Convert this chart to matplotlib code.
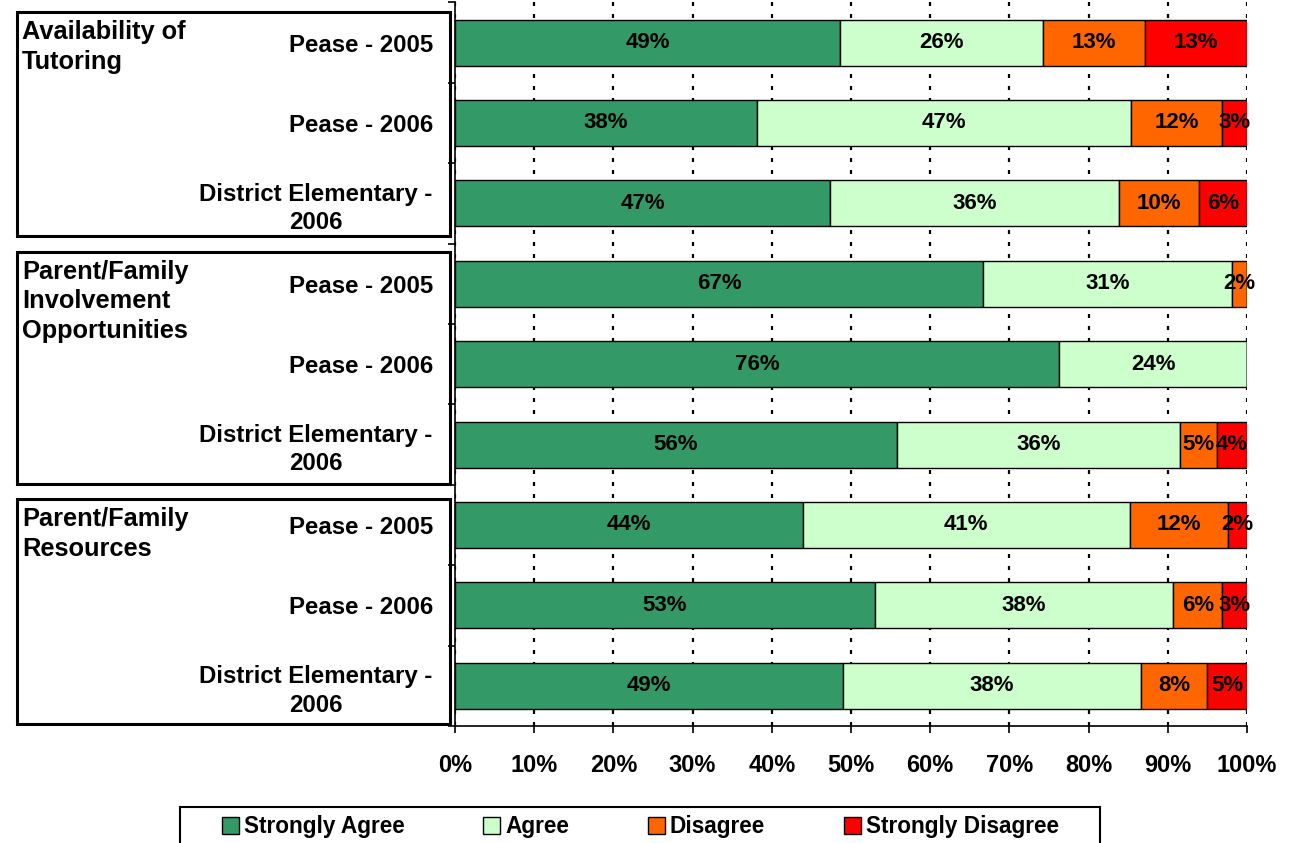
import numpy as np
import matplotlib
matplotlib.use('Agg')
import matplotlib.pyplot as plt
from matplotlib.patches import Patch, Rectangle
from matplotlib.transforms import blended_transform_factory

plt.rcParams['font.family'] = ['Liberation Sans', 'DejaVu Sans']
plt.rcParams['font.weight'] = 'bold'

GROUPS = ['Availability of\nTutoring',
          'Parent/Family\nInvolvement\nOpportunities',
          'Parent/Family\nResources']
ROWS = ['Pease - 2005', 'Pease - 2006', 'District Elementary -\n2006'] * 3
SERIES = ['Strongly Agree', 'Agree', 'Disagree', 'Strongly Disagree']
COLORS = ['#339966', '#CCFFCC', '#FF6600', '#FF0000']

# percent per row, top to bottom
strongly_agree = [48.6, 38.1, 47.4, 66.7, 76.3, 55.8, 43.9, 53.0, 49.0]
agree = [25.6, 47.2, 36.4, 31.4, 23.7, 35.8, 41.3, 37.7, 37.6]
disagree = [12.9, 11.6, 10.1, 1.9, 0.0, 4.6, 12.4, 6.2, 8.4]
strongly_disagree = [12.9, 3.1, 6.1, 0.0, 0.0, 3.8, 2.4, 3.1, 5.0]

# group box extents in row units (top, bottom)
BOX_SPANS = [(-0.38, 2.41), (2.60, 5.49), (5.68, 8.47)]

W, H = 1291, 843
fig = plt.figure(figsize=(W / 100, H / 100), dpi=100)
ax = fig.add_axes([455 / W, 1 - 726 / H, 792 / W, 723.6 / H])

y = np.arange(len(ROWS))
left = np.zeros(len(ROWS))
for vals, name, col in zip([strongly_agree, agree, disagree, strongly_disagree], SERIES, COLORS):
    vals = np.array(vals)
    bars = ax.barh(y, vals, left=left, height=0.57, color=col, edgecolor='black',
                   linewidth=1.0, label=name, zorder=2)
    labels = [f'{round(v)}%' if v > 0 else '' for v in vals]
    ax.bar_label(bars, labels=labels, label_type='center', fontsize=16,
                 fontweight='bold', color='black', zorder=3)
    left += vals

ax.set_xlim(0, 100)
ax.set_ylim(8.5, -0.5)
ax.set_xticks(np.arange(0, 101, 10))
ax.set_xticklabels([f'{v}%' for v in range(0, 101, 10)])
ax.set_yticks(y)
ax.set_yticklabels(ROWS)
ax.set_yticks(np.arange(-0.5, 9, 1), minor=True)

ax.tick_params(axis='x', direction='out', length=5, width=1.2, pad=15, labelsize=17)
ax.tick_params(axis='y', which='major', length=0, pad=16, labelsize=17.3)
ax.tick_params(axis='y', which='minor', direction='out', length=5, width=1.2)
for lbl in ax.get_yticklabels():
    lbl.set_multialignment('center')
    lbl.set_linespacing(1.3)

for side in ['top', 'right']:
    ax.spines[side].set_visible(False)
for side in ['left', 'bottom']:
    ax.spines[side].set_linewidth(1.2)

ax.set_axisbelow(True)
ax.xaxis.grid(True, color='black', linewidth=1.6, linestyle=(0, (1.8, 3.6)))

# group boxes with titles
trans = blended_transform_factory(fig.transFigure, ax.transData)
for title, (top, bot) in zip(GROUPS, BOX_SPANS):
    ax.add_patch(Rectangle((17 / W, top), (450 - 17) / W, bot - top, transform=trans,
                           fill=False, edgecolor='black', linewidth=2.2, clip_on=False))
    ax.text(22 / W, top + 0.1, title, transform=trans, ha='left', va='top',
            fontsize=18.3, fontweight='bold', linespacing=1.3)

# legend
fig.patches.append(Rectangle((180 / W, -0.05), (1100 - 180) / W, 0.05 + (843 - 807) / H,
                             transform=fig.transFigure, fill=False, edgecolor='black',
                             linewidth=1.5))
handles = [Patch(facecolor=c, edgecolor='black', linewidth=1.0, label=s)
           for c, s in zip(COLORS, SERIES)]
fig.legend(handles=handles, loc='center left', bbox_to_anchor=(222 / W, 1 - 827 / H),
           ncol=4, frameon=False, borderpad=0, borderaxespad=0, handlelength=0.75,
           handleheight=0.75, handletextpad=0.2, columnspacing=3.5,
           prop={'weight': 'bold', 'size': 16.3})

fig.savefig('out.png', dpi=100)
